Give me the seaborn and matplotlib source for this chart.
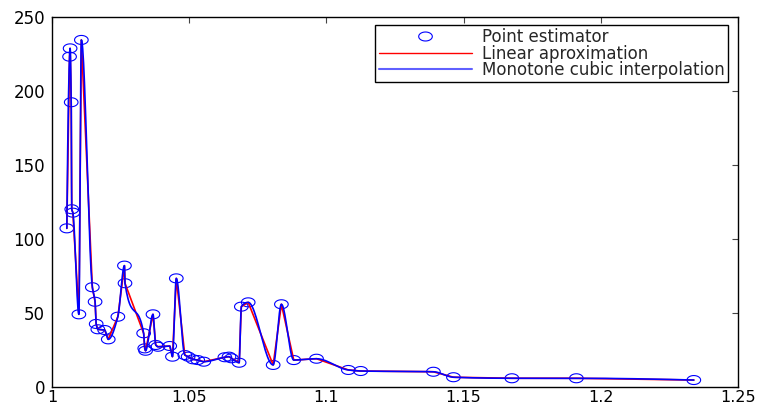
import numpy as np
import pandas as pd
import matplotlib
matplotlib.use("Agg")
import matplotlib.pyplot as plt
from matplotlib.path import Path
from matplotlib.lines import Line2D
import seaborn as sns

# ---- data ----
x_vals = [1.0054, 1.0064, 1.0066, 1.0070, 1.0072, 1.0076, 1.0098, 1.0107, 1.0147, 1.0157,
          1.0161, 1.0167, 1.0192, 1.0205, 1.0240, 1.0264, 1.0266, 1.0334, 1.0338, 1.0341,
          1.0368, 1.0378, 1.0386, 1.0429, 1.0439, 1.0453, 1.0484, 1.0496, 1.0514, 1.0531,
          1.0553, 1.0630, 1.0645, 1.0654, 1.0682, 1.0690, 1.0715, 1.0806, 1.0836, 1.0881,
          1.0964, 1.1080, 1.1125, 1.1390, 1.1463, 1.1676, 1.1911, 1.2339]
y_vals = [107.0, 223.0, 228.6, 192.2, 119.9, 117.6, 48.9, 234.3, 67.2, 57.4,
          42.4, 38.8, 38.3, 32.0, 47.3, 81.8, 69.9, 36.1, 25.9, 24.3,
          48.9, 28.2, 27.0, 27.5, 20.3, 73.2, 21.4, 20.3, 18.5, 18.0,
          16.9, 19.9, 20.3, 19.2, 16.2, 54.1, 57.0, 14.7, 55.7, 18.0,
          18.9, 11.3, 10.6, 10.1, 6.4, 5.7, 5.7, 4.5]
x_ticks = [1.0, 1.05, 1.1, 1.15, 1.2, 1.25]
x_ticklabels = ["1", "1.05", "1.1", "1.15", "1.2", "1.25"]
y_ticks = [0, 50, 100, 150, 200, 250]
labels = ["Point estimator", "Linear aproximation", "Monotone cubic interpolation"]


def pchip_eval(x, y, n_per=25):
    x = np.asarray(x, float)
    y = np.asarray(y, float)
    h = np.diff(x)
    delta = np.diff(y) / h
    n = len(x)
    d = np.zeros(n)
    for k in range(1, n - 1):
        if delta[k - 1] * delta[k] > 0:
            w1 = 2 * h[k] + h[k - 1]
            w2 = h[k] + 2 * h[k - 1]
            d[k] = (w1 + w2) / (w1 / delta[k - 1] + w2 / delta[k])

    def edge(h0, h1, m0, m1):
        dd = ((2 * h0 + h1) * m0 - h0 * m1) / (h0 + h1)
        if np.sign(dd) != np.sign(m0):
            dd = 0.0
        elif np.sign(m0) != np.sign(m1) and abs(dd) > abs(3 * m0):
            dd = 3 * m0
        return dd

    d[0] = edge(h[0], h[1], delta[0], delta[1])
    d[-1] = edge(h[-1], h[-2], delta[-1], delta[-2])
    xs, ys = [], []
    for k in range(n - 1):
        t = np.linspace(0, 1, n_per, endpoint=(k == n - 2))
        h00 = 2 * t**3 - 3 * t**2 + 1
        h10 = t**3 - 2 * t**2 + t
        h01 = -2 * t**3 + 3 * t**2
        h11 = t**3 - t**2
        xs.append(x[k] + t * h[k])
        ys.append(h00 * y[k] + h10 * h[k] * d[k] + h01 * y[k + 1] + h11 * h[k] * d[k + 1])
    return np.concatenate(xs), np.concatenate(ys)


df = pd.DataFrame({"x": x_vals, "y": y_vals})
cx, cy = pchip_eval(x_vals, y_vals)
dfc = pd.DataFrame({"x": cx, "y": cy})

sns.set_style("white")
plt.rcParams["font.family"] = ["DejaVu Sans"]

fig = plt.figure(figsize=(7.6, 4.07), dpi=100)
ax = fig.add_axes([52 / 760, 1 - 386.7 / 407, (738 - 52) / 760, (386.7 - 16.7) / 407])

# ellipse marker (reference is horizontally stretched)
theta = np.linspace(0, 2 * np.pi, 60)
ell = Path(np.column_stack([np.cos(theta), 0.66 * np.sin(theta)]), closed=True)

sns.scatterplot(data=df, x="x", y="y", ax=ax, marker=ell, s=9.8**2,
                facecolors="none", edgecolor="#0000ff", linewidth=0.8, zorder=2)
sns.lineplot(data=df, x="x", y="y", ax=ax, estimator=None, sort=False,
             color="#ff0000", linewidth=1.2, zorder=3)
sns.lineplot(data=dfc, x="x", y="y", ax=ax, estimator=None, sort=False,
             color="#0000ff", linewidth=1.2, zorder=4)

ax.set_xlim(1.0, 1.25)
ax.set_ylim(0, 250)
ax.set_xticks(x_ticks)
ax.set_xticklabels(x_ticklabels)
ax.set_yticks(y_ticks)
ax.set_xlabel("")
ax.set_ylabel("")
for s in ax.spines.values():
    s.set_visible(True)
    s.set_color("black")
    s.set_linewidth(1.0)
ax.tick_params(direction="in", length=4, width=0.8, top=True, right=True,
               labelsize=12, pad=5, color="#444444", labelcolor="black")
ax.tick_params(axis="x", labelsize=11.5, pad=2.5)

handles = [
    Line2D([], [], linestyle="none", marker=ell, markersize=9.8, markerfacecolor="none",
           markeredgecolor="#0000ff", markeredgewidth=0.8),
    Line2D([], [], color="#ff0000", linewidth=1.0),
    Line2D([], [], color="#6060ff", linewidth=1.5),
]
leg = ax.legend(handles, labels, loc="upper right", bbox_to_anchor=(728 / 760, 1 - 25 / 407),
                bbox_transform=fig.transFigure, fontsize=12, frameon=True, fancybox=False,
                shadow=False, framealpha=1, edgecolor="black", borderpad=0.2,
                labelspacing=-0.1, handlelength=5.6, handletextpad=0.6, borderaxespad=0)
leg.get_frame().set_linewidth(1.0)

fig.savefig("out.png", dpi=100)
